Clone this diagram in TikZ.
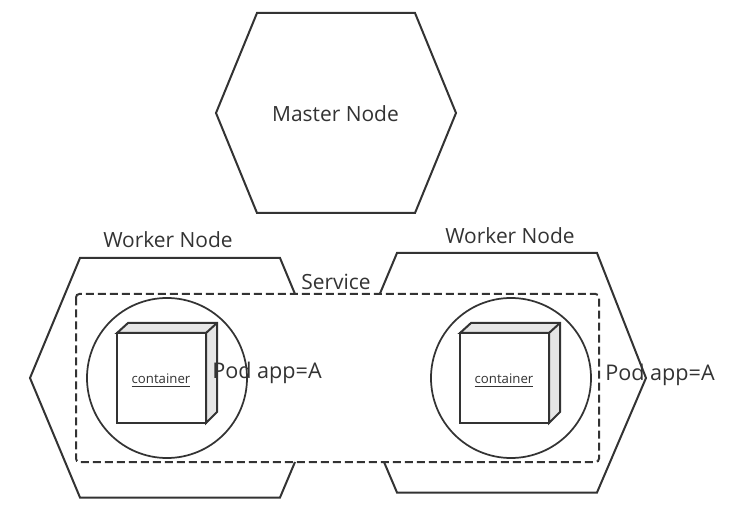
\documentclass[tikz,border=0pt]{standalone}
\usepackage{fontspec}
\setmainfont{Open Sans}
\definecolor{ink}{HTML}{333333}
\definecolor{cubeside}{HTML}{E6E6E6}
\tikzset{
  outline/.style={draw=ink,line width=1.5pt,line join=miter},
  podring/.style={draw=ink,line width=1.3pt},
  lbl/.style={text=ink,inner sep=0pt,font=\fontsize{15.7}{18}\selectfont,anchor=center},
  podlbl/.style={text=ink,inner sep=0pt,font=\fontsize{16.2}{18}\selectfont,anchor=center},
  small/.style={text=ink,inner sep=0pt,font=\fontsize{9.9}{11}\selectfont,anchor=center},
  svc/.style={draw=ink,line width=1.5pt,dash pattern=on 6pt off 3pt,rounded corners=2.5pt},
  front/.style={outline,fill=white},
  side/.style={outline,fill=cubeside}
}
\newcommand{\cubeat}[2]{%
  \begin{scope}[shift={(#1,#2)}]
    \path[side] (0,10) -- (11,0) -- (100,0) -- (100,89) -- (89,100) -- (89,10) -- cycle;
    \path[outline] (89,10) -- (100,0);
    \path[front] (0,10) rectangle (89,100);
  \end{scope}}
\begin{document}
\begin{tikzpicture}[x=0.75pt,y=-0.75pt]
\useasboundingbox (0,0) rectangle (736,520);
\fill[white] (0,0) rectangle (736,520);
% master
\path[outline] (257,13) -- (415,13) -- (456,113) -- (415,213) -- (257,213) -- (216,113) -- cycle;
\node[lbl] (master) at (335.5,113.5) {Master Node};
% workers
\path[outline] (295,294) -- (280,258) -- (80,258) -- (30,378) -- (80,497.5) -- (280,497.5) -- (295,462);
\path[outline] (380,293.5) -- (397,253) -- (597,253) -- (646,378) -- (597,492.5) -- (397,492.5) -- (384,462);
\node[lbl] (w1) at (168,240) {Worker Node};
\node[lbl] (w2) at (510,236) {Worker Node};
\node[lbl] (svc) at (336,282) {Service};
% service
\path[svc] (76,294) rectangle (599,462);
% pods
\path[podring] (167,378) circle[radius=80];
\path[podring] (511,378) circle[radius=80];
\cubeat{117}{323}
\cubeat{460}{323}
\node[small] (c1) at (161,380.5) {\underline{container}};
\node[small] (c2) at (504,380.5) {\underline{container}};
\node[podlbl] (p1) at (267,373) {Pod app=A};
\node[podlbl] (p2) at (660,375) {Pod app=A};
\end{tikzpicture}
\end{document}
